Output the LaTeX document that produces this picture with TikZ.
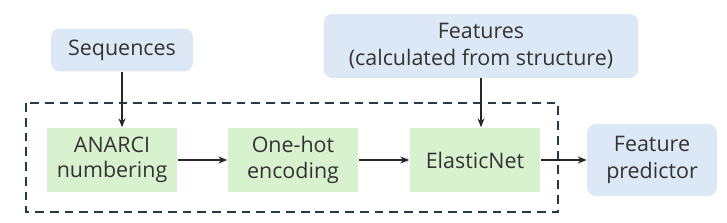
\documentclass[tikz,border=0pt]{standalone}
\usepackage{fontspec}
\setmainfont{Open Sans}
\usepackage{tikz}
\usetikzlibrary{arrows.meta,positioning}
\usepackage{xcolor}
\definecolor{inblue}{HTML}{DCE8F6}
\definecolor{stepgreen}{HTML}{D8F2CF}
\definecolor{frameslate}{HTML}{263B48}
\definecolor{txtgray}{HTML}{333333}

\begin{document}
\begin{tikzpicture}[x=0.02cm,y=-0.02cm,
    iobox/.style={fill=inblue,rounded corners=5pt,text=txtgray,align=center,inner sep=0pt,
                  font=\fontsize{12.2}{15.2}\selectfont},
    stepbox/.style={fill=stepgreen,text=txtgray,align=center,inner sep=0pt,
                    minimum width=2.62cm,minimum height=1.3cm,font=\fontsize{12.2}{14.4}\selectfont},
    flow/.style={-{Stealth[length=5pt,width=4pt]},line width=0.8pt,black!85}]
    \useasboundingbox (0,0) rectangle (727,223);
    % inputs
    \node[iobox,minimum width=2.84cm,minimum height=0.86cm] (seq) at (122,50) {Sequences};
    \node[iobox,minimum width=6.3cm,minimum height=1.28cm] (feat) at (481,46)
        {Features\\(calculated from structure)};
    % pipeline
    \node[stepbox] (anarci) at (112,160) {ANARCI\\numbering};
    \node[stepbox] (onehot) at (293,160) {One-hot\\encoding};
    \node[stepbox] (enet) at (475,160) {ElasticNet};
    \draw[frameslate,line width=1.4pt,dash pattern=on 5pt off 3.4pt] (26,103) rectangle (558,212);
    % output
    \node[iobox,minimum width=2.6cm,minimum height=1.44cm] (pred) at (652,160) {Feature\\predictor};
    \draw[flow] (seq.south -| 122,0) -- (anarci.north -| 122,0);
    \draw[flow] (feat.south) -- (enet.north -| feat.south);
    \draw[flow] (anarci) -- (onehot);
    \draw[flow] (onehot) -- (enet);
    \draw[flow] (enet) -- (pred);
\end{tikzpicture}
\end{document}
